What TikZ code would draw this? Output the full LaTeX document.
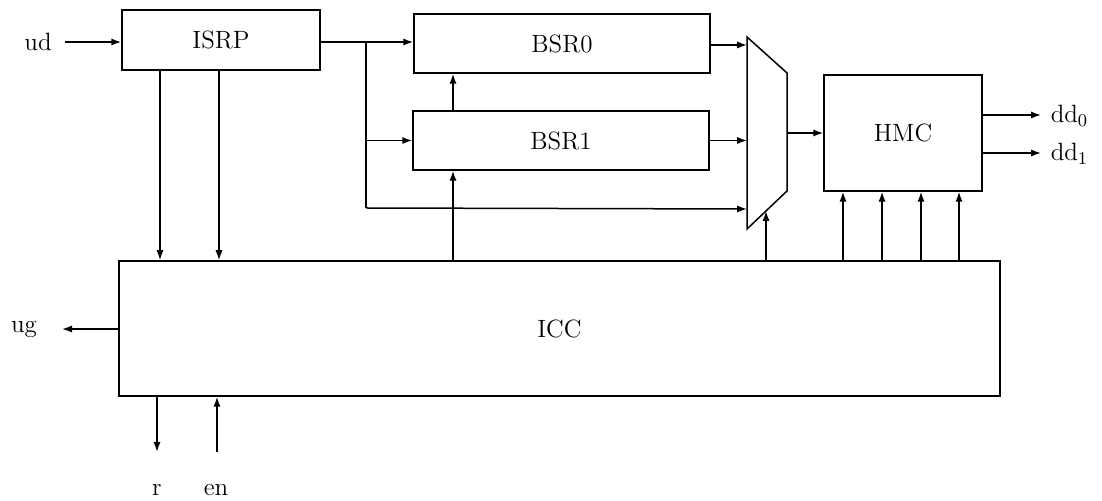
\documentclass[tikz,border=0pt]{standalone}
\usetikzlibrary{arrows.meta,calc}
\begin{document}
\begin{tikzpicture}[x=0.5pt,y=-0.5pt,
  line width=0.75pt,
  blk/.style={draw,rectangle,inner sep=0pt,font=\fontsize{12.5}{14}\selectfont},
  lbl/.style={inner sep=0pt,font=\fontsize{12.5}{14}\selectfont},
  arr/.style={-{Latex[length=5pt,width=3.6pt]}}]
\useasboundingbox (0,0) rectangle (1102,501);
% blocks
\node[blk,minimum width=99pt,minimum height=30pt] (ISRP) at (221,40) {ISRP};
\node[blk,minimum width=148pt,minimum height=29.5pt] (BSR0) at (562,43.5) {BSR0};
\node[blk,minimum width=148pt,minimum height=29.5pt] (BSR1) at (561,140.5) {BSR1};
\node[blk,minimum width=79pt,minimum height=58pt] (HMC) at (903,133) {HMC};
\node[blk,minimum width=440.5pt,minimum height=67.5pt] (ICC) at (559.5,328.5) {ICC};
% multiplexer
\coordinate (mTL) at (747,37);
\coordinate (mTR) at (787,73);
\coordinate (mBR) at (787,191);
\coordinate (mBL) at (747,229);
\draw (mTL) -- (mTR) -- (mBR) -- (mBL) -- cycle;
\coordinate (mOut) at (787,133);
\coordinate (mIn2) at (747,209);
\coordinate (mSel) at (766,211);
% labels
\node[lbl] (ud) at (38,42) {ud};
\node[lbl] (ug) at (24,329) {ug};
\node[lbl] (r) at (157,490) {r};
\node[lbl] (en) at (216,490) {en};
\node[lbl,anchor=west] (dd0) at (1050,116) {dd$_0$};
\node[lbl,anchor=west] (dd1) at (1050,154) {dd$_1$};
% helper coordinates
\coordinate (udS) at (65,42);
\coordinate (ugE) at (62,329);
\coordinate (rE) at (157,452);
\coordinate (enS) at (217,452);
\coordinate (xA) at (160,0);
\coordinate (xB) at (219,0);
\coordinate (br) at (366,42);
\coordinate (brB) at (366,208);
\coordinate (xC) at (453,0);
\coordinate (dd0E) at (1041,115);
\coordinate (dd1E) at (1041,153);
\coordinate (h1) at (843,0);
\coordinate (h2) at (882,0);
\coordinate (h3) at (921,0);
\coordinate (h4) at (959,0);
% connectors
\draw[arr] (udS) -- (udS -| ISRP.west);
\draw[arr] (xA |- ISRP.south) -- (xA |- ICC.north);
\draw[arr] (xB |- ISRP.south) -- (xB |- ICC.north);
\draw[arr] (ISRP.east |- br) -- (br -| BSR0.west);
\draw (br) -- (brB);
\draw[arr] (br |- BSR1.west) -- (BSR1.west);
\draw[arr] (brB) -- (mIn2);
\draw[arr] (xC |- BSR1.north) -- (xC |- BSR0.south);
\draw[arr] (xC |- ICC.north) -- (xC |- BSR1.south);
\draw[arr] ($(BSR0.east)+(0,1.5)$) -- ($(BSR0.east -| mTL)+(0,1.5)$);
\draw[arr] (BSR1.east) -- (BSR1.east -| mTL);
\draw[arr] (mSel |- ICC.north) -- (mSel);
\draw[arr] (mOut) -- (mOut -| HMC.west);
\draw[arr] (HMC.east |- dd0E) -- (dd0E);
\draw[arr] (HMC.east |- dd1E) -- (dd1E);
\draw[arr] (h1 |- ICC.north) -- (h1 |- HMC.south);
\draw[arr] (h2 |- ICC.north) -- (h2 |- HMC.south);
\draw[arr] (h3 |- ICC.north) -- (h3 |- HMC.south);
\draw[arr] (h4 |- ICC.north) -- (h4 |- HMC.south);
\draw[arr] (ICC.west |- ugE) -- (ugE);
\draw[arr] (rE |- ICC.south) -- (rE);
\draw[arr] (enS) -- (enS |- ICC.south);
\end{tikzpicture}
\end{document}
